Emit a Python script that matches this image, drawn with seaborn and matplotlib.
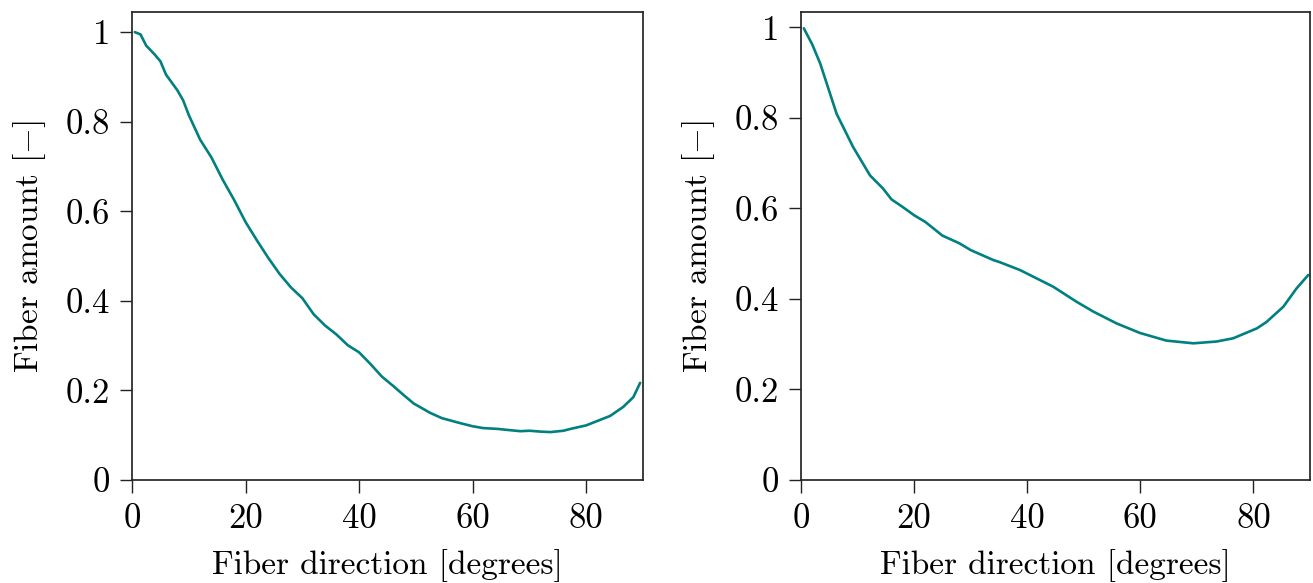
import numpy as np
import pandas as pd
import matplotlib
matplotlib.use("Agg")
import matplotlib.pyplot as plt
import seaborn as sns

# ---- data ----
left_deg = [0.5, 1.5, 2.5, 4, 5, 6, 8, 9, 10, 12, 14, 16, 18, 20, 22, 24, 26, 28, 30,
            32, 34, 36, 38, 40, 42, 44, 46, 48, 49.6, 52.5, 54.6, 57.8, 60, 61.8, 64.5,
            66, 68.4, 70, 72, 73.7, 76, 77.2, 80, 82, 84.2, 86.5, 88.3, 89.5]
left_amount = [1.0, 0.995, 0.97, 0.95, 0.935, 0.905, 0.87, 0.848, 0.815, 0.76, 0.72,
               0.67, 0.625, 0.576, 0.535, 0.496, 0.46, 0.43, 0.406, 0.37, 0.345, 0.325,
               0.301, 0.285, 0.259, 0.231, 0.21, 0.188, 0.171, 0.15, 0.138, 0.127, 0.12,
               0.116, 0.114, 0.112, 0.109, 0.11, 0.108, 0.107, 0.11, 0.114, 0.122, 0.132,
               0.143, 0.163, 0.185, 0.217]

right_deg = [0.5, 2, 3.4, 6.3, 9.2, 12.2, 14.5, 16, 18, 20, 22, 25, 28, 30, 34, 35.2,
             38.7, 41.1, 44.6, 48.7, 51.7, 55.8, 59.9, 64.6, 69.4, 73.5, 76.4, 80.6,
             82.3, 85.3, 87.6, 89.7]
right_amount = [0.998, 0.962, 0.92, 0.809, 0.736, 0.673, 0.644, 0.62, 0.603, 0.585, 0.57,
                0.54, 0.523, 0.508, 0.486, 0.481, 0.464, 0.449, 0.427, 0.394, 0.372,
                0.346, 0.325, 0.308, 0.302, 0.306, 0.313, 0.335, 0.349, 0.383, 0.423,
                0.453]

x_ticks = [0, 20, 40, 60, 80]
x_tick_labels = ["0", "20", "40", "60", "80"]
y_ticks = [0, 0.2, 0.4, 0.6, 0.8, 1.0]
y_tick_labels = ["0", "0.2", "0.4", "0.6", "0.8", "1"]

x_label = "Fiber direction [degrees]"
y_label = r"Fiber amount [$-$]"

# ---- style ----
sns.set_theme(style="white")
plt.rcParams.update({
    "font.family": "serif",
    "font.serif": ["cmr10", "DejaVu Serif"],
    "mathtext.fontset": "cm",
    "axes.unicode_minus": False,
    "axes.formatter.use_mathtext": True,
    "axes.labelcolor": "black",
    "text.color": "black",
    "xtick.color": "#222222",
    "ytick.color": "#222222",
})

fig = plt.figure(figsize=(13.13, 5.83), dpi=100)
ax1 = fig.add_axes([132 / 1313, 1 - 480 / 583, (643 - 132) / 1313, (480 - 12) / 583])
ax2 = fig.add_axes([801 / 1313, 1 - 480 / 583, (1310 - 801) / 1313, (480 - 12) / 583])

color = "#008080"
df1 = pd.DataFrame({"deg": left_deg, "amount": left_amount})
df2 = pd.DataFrame({"deg": right_deg, "amount": right_amount})
sns.lineplot(data=df1, x="deg", y="amount", ax=ax1, color=color, linewidth=1.9)
sns.lineplot(data=df2, x="deg", y="amount", ax=ax2, color=color, linewidth=1.9)

for ax, ytop in ((ax1, 1.045), (ax2, 1.034)):
    ax.set_xlim(0, 90)
    ax.set_ylim(0, ytop)
    ax.set_xticks(x_ticks)
    ax.set_xticklabels(x_tick_labels, fontsize=25)
    ax.set_yticks(y_ticks)
    ax.set_yticklabels(y_tick_labels, fontsize=25)
    ax.tick_params(axis="both", direction="out", length=9, width=1.0,
                   bottom=True, left=True, labelcolor="black")
    ax.tick_params(axis="x", pad=8)
    ax.tick_params(axis="y", pad=6.5)
    ax.set_xlabel(x_label, fontsize=24, labelpad=10)
    ax.set_ylabel(y_label, fontsize=24, labelpad=13)

fig.savefig("out.png", dpi=100)
